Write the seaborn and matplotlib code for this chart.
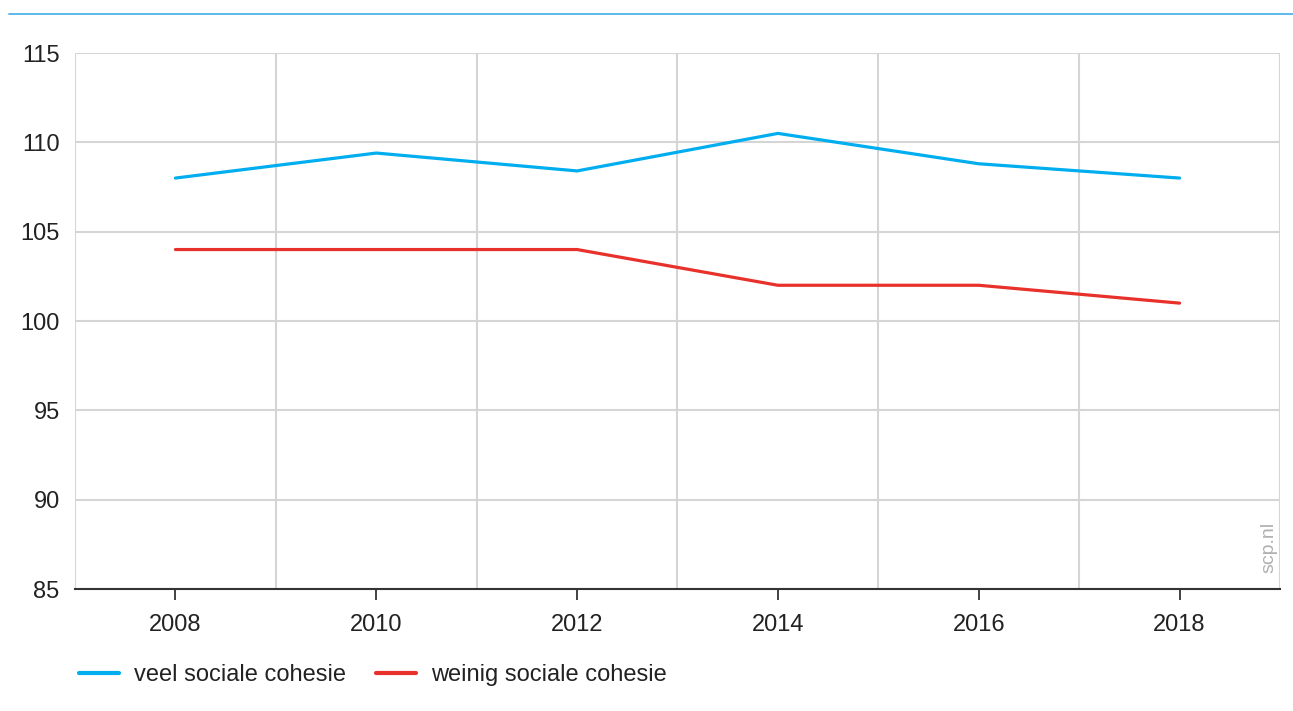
import matplotlib
matplotlib.use("Agg")
import matplotlib.pyplot as plt
import matplotlib.lines as mlines
from matplotlib.ticker import FixedLocator
import seaborn as sns
import pandas as pd

years = [2008, 2010, 2012, 2014, 2016, 2018]
veel = [108.0, 109.4, 108.4, 110.5, 108.8, 108.0]
weinig = [104.0, 104.0, 104.0, 102.0, 102.0, 101.0]
series_names = ["veel sociale cohesie", "weinig sociale cohesie"]
colors = ["#00aeef", "#e8312a"]
y_ticks = [85, 90, 95, 100, 105, 110, 115]

df = pd.DataFrame({
    "jaar": years * 2,
    "waarde": veel + weinig,
    "groep": [series_names[0]] * len(years) + [series_names[1]] * len(years),
})

sns.set_theme(style="white")
plt.rcParams["font.family"] = ["Liberation Sans", "DejaVu Sans"]

fig = plt.figure(figsize=(12.93, 7.11), dpi=100)
ax = fig.add_axes([75 / 1293, 1 - 589 / 711, (1280 - 75) / 1293, (589 - 53) / 711])

sns.lineplot(data=df, x="jaar", y="waarde", hue="groep", palette=colors,
             linewidth=2.3, ax=ax, legend=False, zorder=3)

ax.set_xlim(2007, 2019)
ax.set_ylim(85, 115)
ax.xaxis.set_major_locator(FixedLocator(years))
ax.xaxis.set_minor_locator(FixedLocator([2007, 2009, 2011, 2013, 2015, 2017, 2019]))
ax.yaxis.set_major_locator(FixedLocator(y_ticks))
ax.grid(False)
ax.grid(True, axis="x", which="minor", color="#d5d5d5", linewidth=1.5, zorder=0)
ax.grid(True, axis="y", which="major", color="#d5d5d5", linewidth=1.5, zorder=0)
ax.set_axisbelow(True)

for s in ["top", "left", "right"]:
    ax.spines[s].set_visible(False)
ax.spines["bottom"].set_color("#333333")
ax.spines["bottom"].set_linewidth(1.5)
ax.spines["bottom"].set_zorder(4)

ax.tick_params(axis="x", which="major", direction="out", length=8, width=1.3,
               color="#333333", pad=10, labelsize=17, labelcolor="#222222", bottom=True)
ax.tick_params(axis="x", which="minor", length=0)
ax.tick_params(axis="y", which="major", length=0, pad=11, labelsize=17, labelcolor="#222222")
ax.set_xlabel("")
ax.set_ylabel("")

# top decorative line
fig.add_artist(mlines.Line2D([9 / 1293, 1.0], [1 - 14 / 711, 1 - 14 / 711],
                             color="#4db4e8", linewidth=1.3, transform=fig.transFigure))

# watermark
fig.text(1269 / 1293, 1 - 547 / 711, "scp.nl", rotation=90, color="#b0b0b0",
         fontsize=14, ha="center", va="center")

handles = [mlines.Line2D([], [], color=c, linewidth=3) for c in colors]
fig.legend(handles, series_names, loc="center left",
           bbox_to_anchor=(58 / 1293, 1 - 675 / 711), ncol=2, frameon=False,
           fontsize=17, handlelength=1.7, handletextpad=0.6, columnspacing=1.3,
           labelcolor="#222222")

fig.savefig("out.png", dpi=100)
